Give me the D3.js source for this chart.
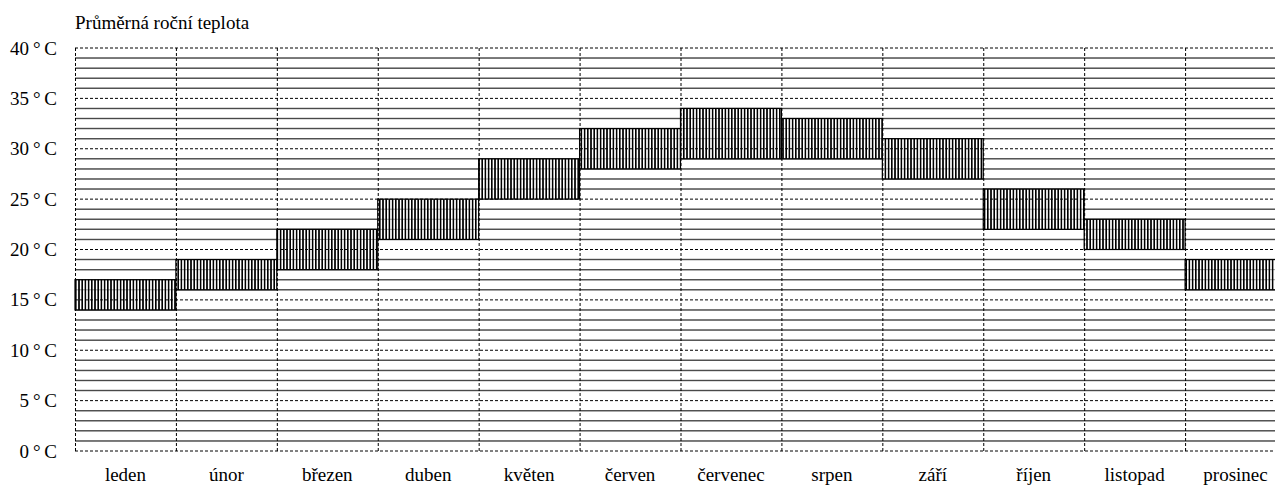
<!DOCTYPE html>
<html>
<head>
<meta charset="utf-8">
<script src="https://cdn.jsdelivr.net/npm/d3@7"></script>
<style>
  body { margin: 0; background: #fff; }
  svg { display: block; font-family: "Liberation Serif", "DejaVu Serif", serif; }
</style>
</head>
<body>
<svg id="chart" width="1275" height="486"></svg>
<script>
// Data
const months = ['leden', 'únor', 'březen', 'duben', 'květen', 'červen',
  'červenec', 'srpen', 'září', 'říjen', 'listopad', 'prosinec'];
const lowTemps = [14, 16, 18, 21, 25, 28, 29, 29, 27, 22, 20, 16];
const highTemps = [17, 19, 22, 25, 29, 32, 34, 33, 31, 26, 23, 19];
const yTicks = [0, 5, 10, 15, 20, 25, 30, 35, 40];
const title = 'Průměrná roční teplota';

const data = months.map((m, i) => ({ month: m, low: lowTemps[i], high: highTemps[i] }));

const svg = d3.select('#chart');
const margin = { top: 48, right: -11, bottom: 35, left: 75 };
const width = 1275 - margin.left - margin.right;
const height = 486 - margin.top - margin.bottom;

// hatch pattern
const defs = svg.append('defs');
const pat = defs.append('pattern')
  .attr('id', 'hatch')
  .attr('patternUnits', 'userSpaceOnUse')
  .attr('width', 3.2)
  .attr('height', 10);
pat.append('rect').attr('width', 3.2).attr('height', 10).attr('fill', '#fff');
pat.append('rect').attr('x', 0).attr('width', 1.6).attr('height', 10).attr('fill', '#000');

const g = svg.append('g')
  .attr('transform', `translate(${margin.left},${margin.top})`);

const x = d3.scaleBand()
  .domain(months)
  .range([0, width])
  .padding(0);

const y = d3.scaleLinear()
  .domain([0, 40])
  .range([height, 0]);

// horizontal grid: every degree, dashed at 5s
const minor = d3.range(0, 41).filter(v => v % 5 !== 0);
g.selectAll('.minor')
  .data(minor)
  .enter()
  .append('line')
  .attr('x1', 0)
  .attr('x2', width)
  .attr('y1', d => y(d))
  .attr('y2', d => y(d))
  .attr('stroke', '#777')
  .attr('stroke-width', 1.5);

// bars
g.selectAll('.bar')
  .data(data)
  .enter()
  .append('rect')
  .attr('class', 'bar')
  .attr('x', d => x(d.month))
  .attr('y', d => y(d.high))
  .attr('width', x.bandwidth())
  .attr('height', d => y(d.low) - y(d.high))
  .attr('fill', 'url(#hatch)')
  .attr('stroke', '#000')
  .attr('stroke-width', 1.2);

// minor lines running through the bars
g.selectAll('.minor2')
  .data(minor)
  .enter()
  .append('line')
  .attr('x1', 0)
  .attr('x2', width)
  .attr('y1', d => y(d))
  .attr('y2', d => y(d))
  .attr('stroke', '#000')
  .attr('stroke-opacity', 0.4)
  .attr('stroke-width', 1);

g.selectAll('.major')
  .data(yTicks)
  .enter()
  .append('line')
  .attr('x1', 0)
  .attr('x2', width)
  .attr('y1', d => y(d))
  .attr('y2', d => y(d))
  .attr('stroke', '#000')
  .attr('stroke-width', 1)
  .attr('stroke-dasharray', '3,2');

// vertical dashed lines at band edges
g.selectAll('.vline')
  .data(months)
  .enter()
  .append('line')
  .attr('x1', d => x(d) + 0.5)
  .attr('x2', d => x(d) + 0.5)
  .attr('y1', 0)
  .attr('y2', height)
  .attr('stroke', '#000')
  .attr('stroke-width', 1)
  .attr('stroke-dasharray', '3,2');

// y axis labels
const yAxis = g.append('g')
  .call(d3.axisLeft(y).tickValues(yTicks).tickSize(0).tickPadding(18)
    .tickFormat(d => `${d}\u2009°\u2009C`));
yAxis.select('.domain').remove();
yAxis.selectAll('text')
  .attr('font-family', '"Liberation Serif", serif')
  .attr('font-size', 19)
  .attr('fill', '#000');

// x axis labels
const xAxis = g.append('g')
  .attr('transform', `translate(0,${height})`)
  .call(d3.axisBottom(x).tickSize(0).tickPadding(17));
xAxis.select('.domain').remove();
xAxis.selectAll('text')
  .attr('font-family', '"Liberation Serif", serif')
  .attr('font-size', 19)
  .attr('fill', '#000');

// title
svg.append('text')
  .attr('x', margin.left)
  .attr('y', 29)
  .attr('font-size', 19)
  .attr('fill', '#000')
  .text(title);
</script>
</body>
</html>
